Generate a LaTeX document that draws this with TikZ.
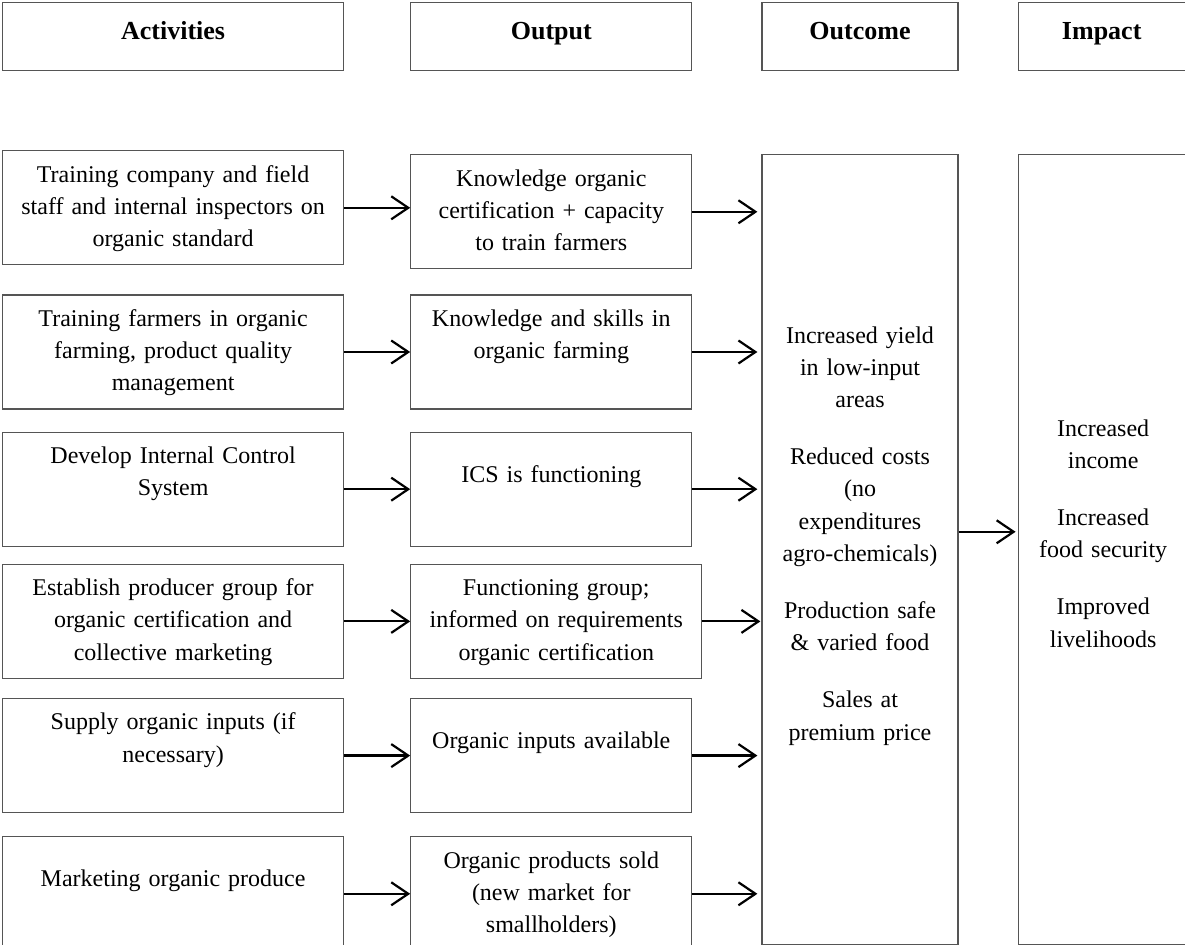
\documentclass[tikz,border=0pt]{standalone}
\usepackage{fontspec}
\setmainfont{Liberation Serif}
\usetikzlibrary{positioning,arrows.meta,calc}
\definecolor{framecolor}{RGB}{85,85,85}

\begin{document}
\begin{tikzpicture}[
    x=0.5pt, y=-0.5pt,
    box/.style={rectangle, draw=framecolor, line width=0.6pt, inner xsep=3pt, inner ysep=0pt, align=center,
        font=\fontsize{12pt}{16.1pt}\selectfont, text height=15.7pt, text depth=41.3pt},
    act/.style={box, text width=164.5pt},
    outbox/.style={box, text width=134.5pt},
    colbox/.style={box, text width=92pt},
    impbox/.style={box, text width=77.5pt},
    lowtext/.style={text height=25pt, text depth=32pt},
    head/.style={font=\fontsize{13pt}{16pt}\selectfont\bfseries, text height=18.5pt, text depth=15.5pt},
    arrow/.style={-{Straight Barb[length=8.5pt,width=11.5pt]}, line width=1.1pt}
]
\useasboundingbox (0,0) rectangle (1185,945);

% ===== HEADERS =====
\node[act, head, anchor=north west] (hact) at (2,2) {Activities};
\node[outbox, head, right=33pt of hact] (hout) {Output};
\node[colbox, head, right=34.5pt of hout] (hoc) {Outcome};
\node[impbox, head, right=29.5pt of hoc] (himp) {Impact};

% ===== ACTIVITIES =====
\node[act, below=39.5pt of hact] (act1) {Training company and field\\staff and internal inspectors on\\organic standard};
\node[act, below=14.5pt of act1] (act2) {Training farmers in organic\\farming, product quality\\management};
\node[act, below=11pt of act2] (act3) {Develop Internal Control\\System};
\node[act, below=8.5pt of act3] (act4) {Establish producer group for\\organic certification and\\collective marketing};
\node[act, below=9.5pt of act4] (act5) {Supply organic inputs (if\\necessary)};
\node[act, lowtext, below=11.5pt of act5] (act6) {Marketing organic produce};

% ===== OUTPUTS =====
\node[outbox, right=33pt of act1, yshift=-2pt] (out1) {Knowledge organic\\certification + capacity\\to train farmers};
\node[outbox, right=33pt of act2] (out2) {Knowledge and skills in\\organic farming};
\node[outbox, lowtext, right=33pt of act3] (out3) {ICS is functioning};
\node[outbox, text width=139.5pt, right=33pt of act4] (out4) {Functioning group;\\informed on requirements\\organic certification};
\node[outbox, lowtext, right=33pt of act5] (out5) {Organic inputs available};
\node[outbox, right=33pt of act6] (out6) {Organic products sold\\(new market for\\smallholders)};

% ===== OUTCOME / IMPACT =====
\node[colbox, text height=94.2pt, text depth=300.8pt, below=41.5pt of hoc] (outcome)
    {Increased yield\\in low-input\\areas\\[12.5pt]Reduced costs\\(no\\expenditures\\agro-chemicals)\\[12.5pt]Production safe\\\& varied food\\[12.5pt]Sales at\\premium price};
\node[impbox, text width=79pt, text height=140.7pt, text depth=254.3pt, anchor=north west] (impact)
    at ([yshift=-41.5pt]himp.south west)
    {Increased\\income\\[12.5pt]Increased\\food security\\[12.5pt]Improved\\livelihoods};

% ===== ARROWS - ACTIVITY TO OUTPUT =====
\draw[arrow] (act1.east) -- (act1.east -| out1.west);
\draw[arrow] (act2.east) -- (act2.east -| out2.west);
\draw[arrow] (act3.east) -- (act3.east -| out3.west);
\draw[arrow] (act4.east) -- (act4.east -| out4.west);
\draw[arrow] (act5.east) -- (act5.east -| out5.west);
\draw[arrow] (act6.east) -- (act6.east -| out6.west);

% ===== ARROWS - OUTPUT TO OUTCOME =====
\draw[arrow, shorten >=2pt] (out1.east) -- (out1.east -| outcome.west);
\draw[arrow, shorten >=2pt] (out2.east) -- (out2.east -| outcome.west);
\draw[arrow, shorten >=2pt] (out3.east) -- (out3.east -| outcome.west);
\draw[arrow, shorten >=0.5pt] (out4.east) -- (out4.east -| outcome.west);
\draw[arrow, shorten >=2pt] (out5.east) -- (out5.east -| outcome.west);
\draw[arrow, shorten >=2pt] (out6.east) -- (out6.east -| outcome.west);

% ===== ARROW - OUTCOME TO IMPACT =====
\draw[arrow, shorten >=1pt] ([yshift=9pt]outcome.east) -- ([yshift=9pt]outcome.east -| impact.west);

\end{tikzpicture}
\end{document}
